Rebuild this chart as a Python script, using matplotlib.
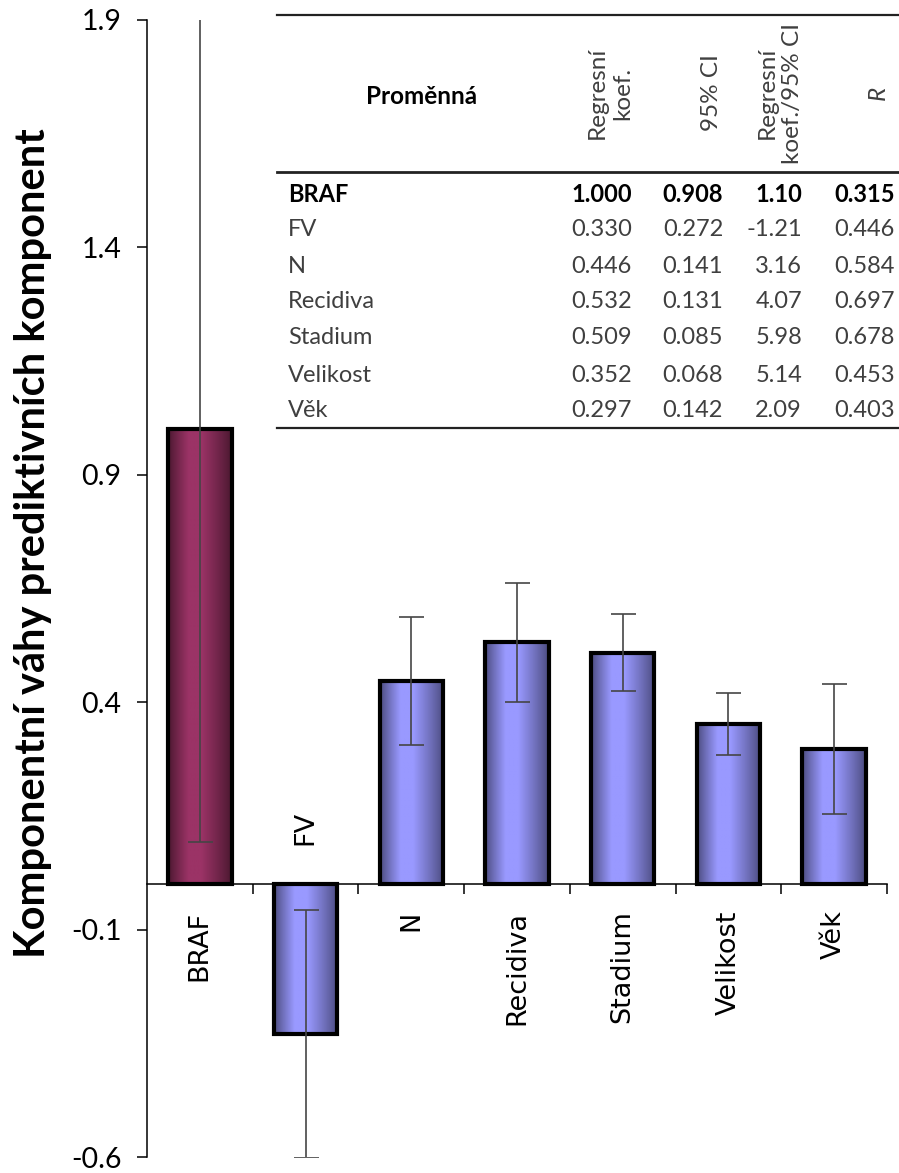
import matplotlib
matplotlib.use("Agg")
import matplotlib.pyplot as plt
from matplotlib.lines import Line2D
import numpy as np

plt.rcParams['axes.unicode_minus'] = False

# data
categories = ['BRAF', 'FV', 'N', 'Recidiva', 'Stadium', 'Velikost', 'Věk']
weights = [1.000, -0.330, 0.446, 0.532, 0.509, 0.352, 0.297]
ci95 = [0.908, 0.272, 0.141, 0.131, 0.085, 0.068, 0.142]

yticks = [-0.6, -0.1, 0.4, 0.9, 1.4, 1.9]
ytick_labels = ['-0.6', '-0.1', '0.4', '0.9', '1.4', '1.9']

tab_header = ['Proměnná', 'Regresní\nkoef.', '95% CI', 'Regresní\nkoef./95% CI', 'R']
tab_rows = ['BRAF', 'FV', 'N', 'Recidiva', 'Stadium', 'Velikost', 'Věk']
tab_coef = ['1.000', '0.330', '0.446', '0.532', '0.509', '0.352', '0.297']
tab_ci = ['0.908', '0.272', '0.141', '0.131', '0.085', '0.068', '0.142']
tab_ratio = ['1.10', '-1.21', '3.16', '4.07', '5.98', '5.14', '2.09']
tab_r = ['0.315', '0.446', '0.584', '0.697', '0.678', '0.453', '0.403']

W, H = 899, 1173
FONT = 'Lato'
GREY = '#3f3f3f'


def px(x, y):
    # pixel position -> figure fraction
    return x / W, 1 - y / H


def shade_bar(ax, patch, light, dark):
    # horizontal gradient, dark at edges and light near the middle
    t = np.linspace(0, 1, 80)
    w = np.interp(t, [0, 0.32, 0.52, 1], [0, 1, 1, 0]) ** 0.9
    light = np.array(matplotlib.colors.to_rgb(light))
    dark = np.array(matplotlib.colors.to_rgb(dark))
    img = dark[None, :] * (1 - w[:, None]) + light[None, :] * w[:, None]
    x0, y0 = patch.get_x(), patch.get_y()
    im = ax.imshow(img[None, :, :], extent=(x0, x0 + patch.get_width(), y0, y0 + patch.get_height()),
                   aspect='auto', zorder=2, interpolation='bilinear')
    im.set_clip_path(patch)


fig = plt.figure(figsize=(W / 100, H / 100), dpi=100)
l, b = px(147, 1157)
r, t = px(887, 20)
ax = fig.add_axes([l, b, r - l, t - b])

x = np.arange(len(categories))
bars = ax.bar(x, weights, width=0.6, facecolor='none', edgecolor='black', linewidth=3, zorder=3)
for i, p in enumerate(bars):
    if i == 0:
        shade_bar(ax, p, '#9b3366', '#4a1830')
    else:
        shade_bar(ax, p, '#9999ff', '#4b4b7e')

ax.errorbar(x, weights, yerr=ci95, fmt='none', ecolor='#454545', elinewidth=1.2,
            capsize=9, capthick=1.2, zorder=4)

ax.set_xlim(-0.5, len(categories) - 0.5)
ax.set_ylim(-0.6, 1.9)
ax.spines['top'].set_visible(False)
ax.spines['right'].set_visible(False)
ax.spines['bottom'].set_position(('data', 0))
ax.spines['left'].set_linewidth(1.1)
ax.spines['bottom'].set_linewidth(1.1)

ax.set_yticks(yticks)
ax.set_yticklabels(ytick_labels, fontsize=20.5, family=FONT)
ax.tick_params(axis='y', direction='out', length=7.5, width=1.1, pad=11)
ax.set_xticks(np.arange(len(categories)) + 0.5)
ax.set_xticklabels([])
ax.tick_params(axis='x', direction='out', length=7.5, width=1.1)

for i, name in enumerate(categories):
    if weights[i] >= 0:
        ax.annotate(name, (i, 0), xytext=(0, -19), textcoords='offset points',
                    rotation=90, ha='center', va='top', fontsize=19.5, family='DejaVu Sans')
    else:
        ax.annotate(name, (i, 0), xytext=(0, 28), textcoords='offset points',
                    rotation=90, ha='center', va='bottom', fontsize=19.5, family='DejaVu Sans')

fig.text(*px(33, 543), 'Komponentní váhy prediktivních komponent', rotation=90,
         ha='center', va='center', fontsize=30, fontweight='bold', family=FONT)

# table drawn over the upper part of the chart
for yy, lw in [(15, 1.6), (172, 2.0), (428, 1.6)]:
    fig.add_artist(Line2D([277 / W, 1.0], [1 - yy / H] * 2, color='#222222', linewidth=lw))

fig.text(*px(422, 97), tab_header[0], ha='center', va='center', fontsize=17.5,
         fontweight='bold', family=FONT, color='black')
head_x = [610, 712, 780, 878]
for hx, txt in zip(head_x, tab_header[1:]):
    style = 'italic' if txt == 'R' else 'normal'
    fig.text(*px(hx, 93), txt, rotation=90, ha='center', va='center', multialignment='center',
             fontsize=17.5, family=FONT, color=GREY, linespacing=1.25, style=style)

row_y = [194, 230, 266, 302, 338, 375, 411]
num_x = [632, 723, 802, 895]
for k, yy in enumerate(row_y):
    bold = k == 0
    kw = dict(fontsize=17, family=FONT, va='center',
              fontweight='bold' if bold else 'normal', color='black' if bold else GREY)
    fig.text(*px(288, yy), tab_rows[k], ha='left', **kw)
    for nx, col in zip(num_x, [tab_coef, tab_ci, tab_ratio, tab_r]):
        fig.text(*px(nx, yy), col[k], ha='right', **kw)

fig.savefig('out.png', dpi=100)
